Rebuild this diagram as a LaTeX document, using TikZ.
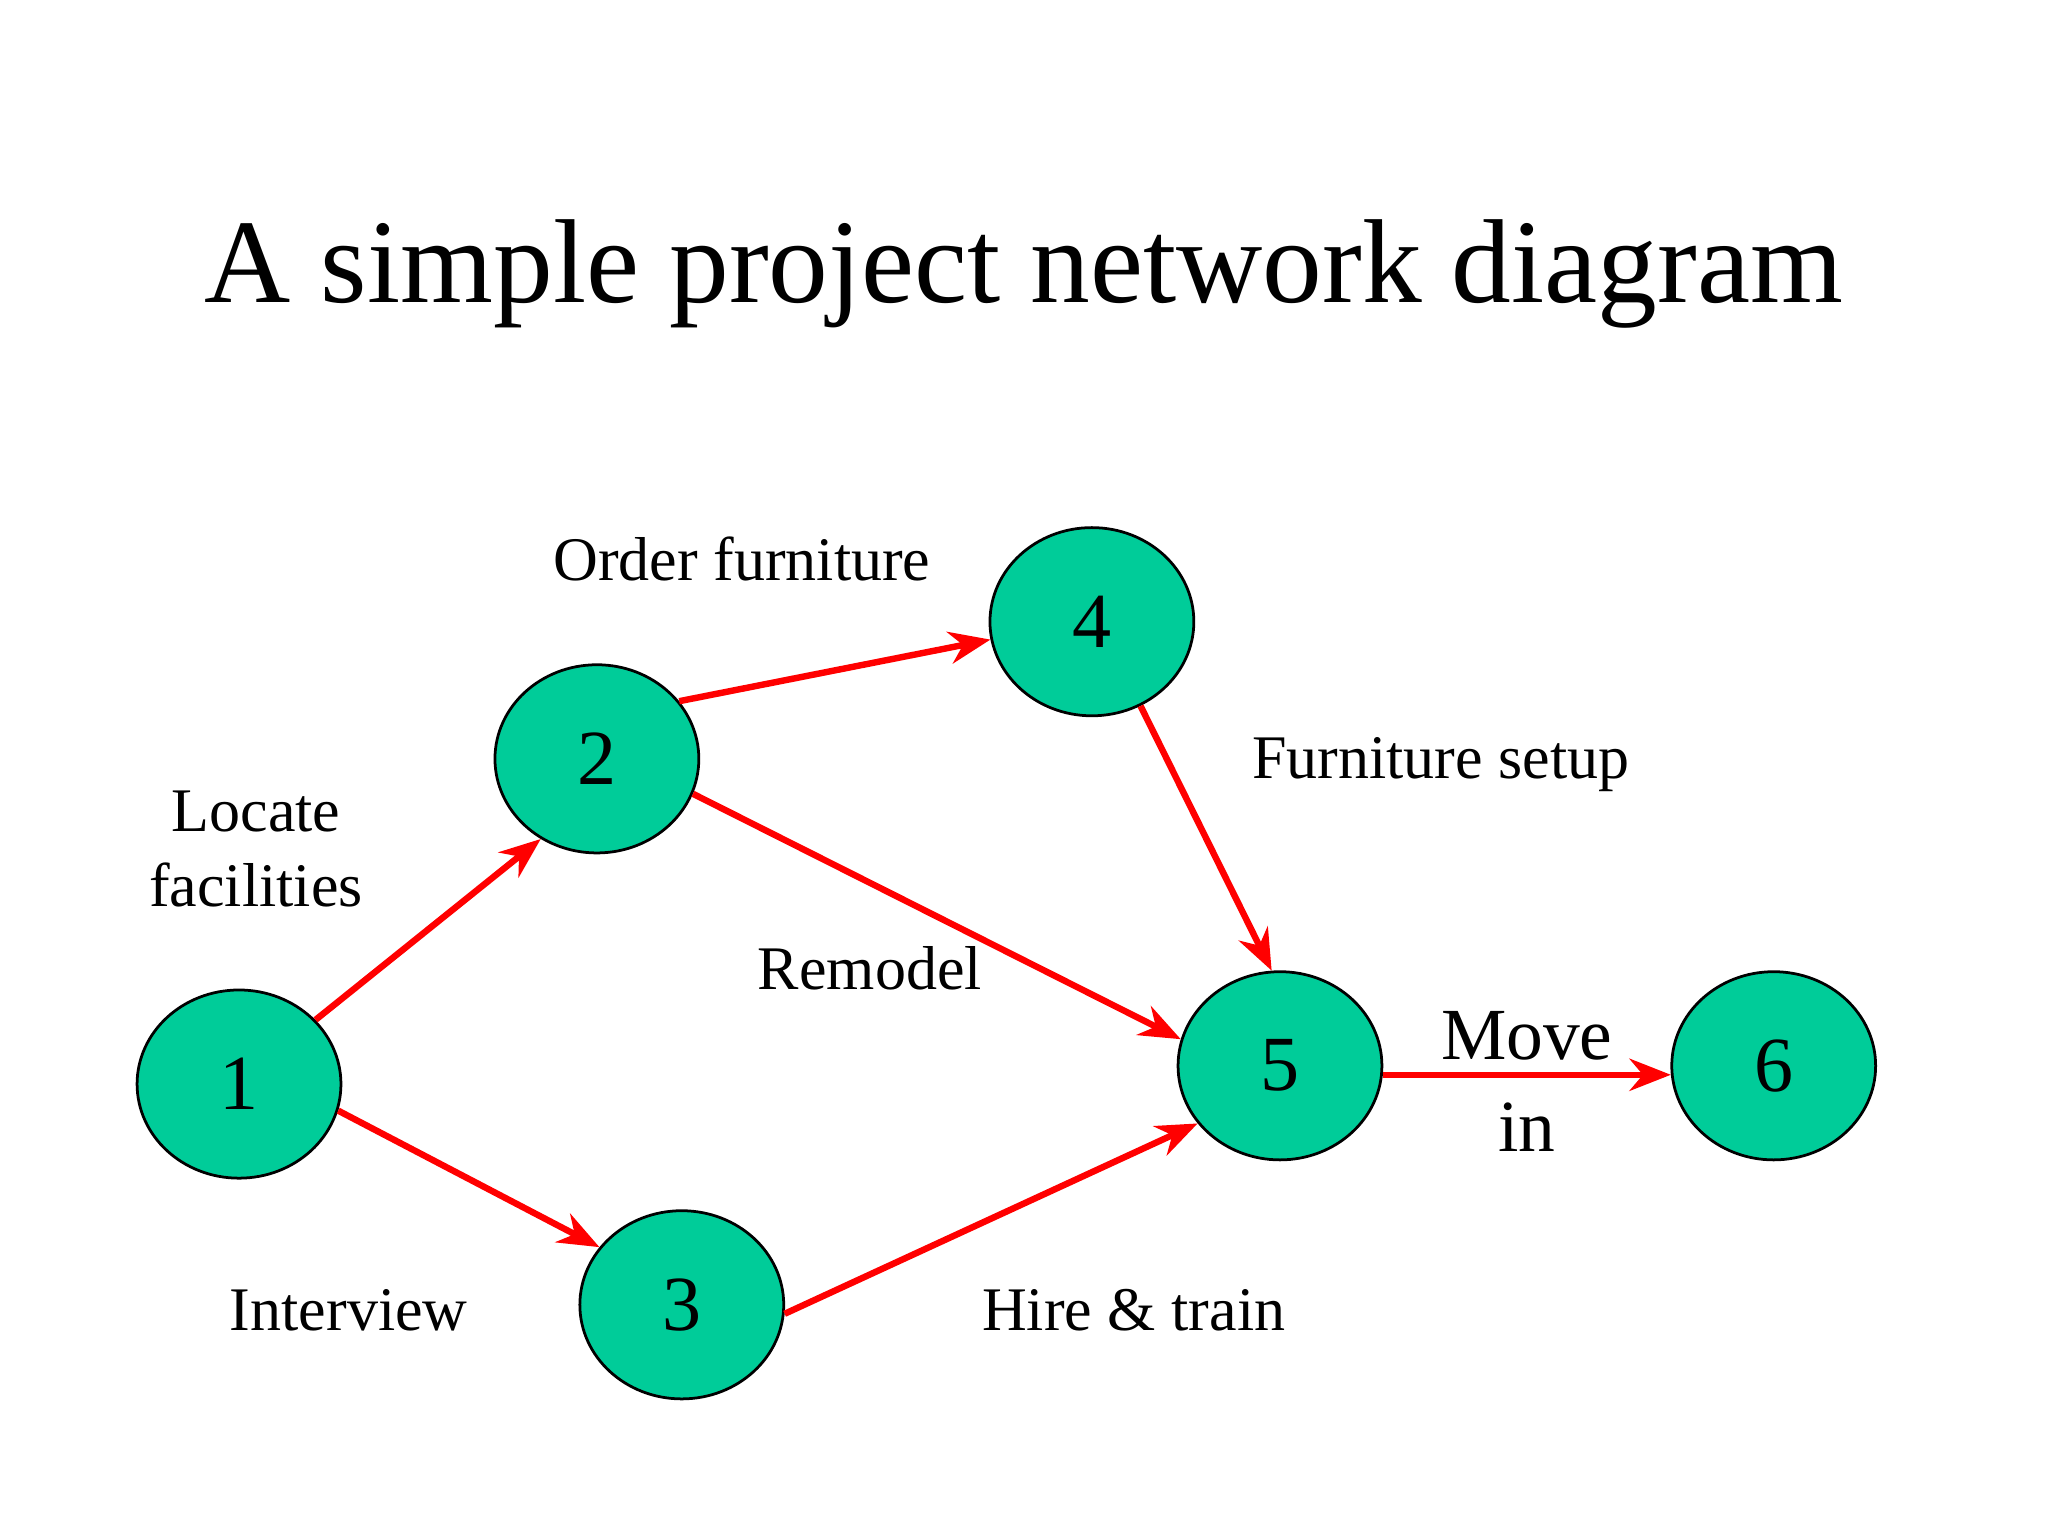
\documentclass[tikz,border=0pt]{standalone}
\usepackage{fontspec}
\setmainfont{Liberation Serif}
\usetikzlibrary{shapes.geometric,arrows.meta}
\definecolor{nodegreen}{HTML}{00CC99}
\begin{document}
\begin{tikzpicture}[x=0.01cm,y=-0.01cm,
  ev/.style={ellipse,draw=black,line width=0.6pt,fill=nodegreen,minimum width=1.56cm,minimum height=1.44cm,inner sep=0pt,font=\fontsize{17}{20}\selectfont},
  act/.style={draw=red,line width=1.4pt,-{Stealth[length=9pt,width=7pt]}},
  lab/.style={font=\fontsize{13.5}{16.5}\selectfont,align=center}]
\useasboundingbox (0,0) rectangle (1568,1176);
\node[font=\fontsize{26}{30}\selectfont] (title) at (784,210) {A simple project network diagram};
\node[ev] (n1) at (183,830) {1};
\node[ev] (n2) at (457,581) {2};
\node[ev] (n4) at (836,476) {4};
\node[ev] (n5) at (980,816) {5};
\node[ev] (n3) at (522,999) {3};
\node[ev] (n6) at (1358,816) {6};
\draw[act] (n1.40) -- (n2.235);
\draw[act] (n1.-15) -- (n3.145);
\draw[act] (n2.35) -- (n4.190);
\draw[act] (n2.-20) -- (n5.165);
\draw[act] (n4.-60) -- (n5.95);
\draw[act] (n3.-5) -- (n5.215);
\draw[act] (n5.-5) -- (n6.-175);
\node[lab] (l1) at (196,650) {Locate\\facilities};
\node[lab] (l2) at (568,428) {Order furniture};
\node[lab] (l3) at (1103,585) {Furniture setup};
\node[lab] (l4) at (666,741) {Remodel};
\node[lab,font=\fontsize{16}{20}\selectfont] (l5) at (1169,828) {Move\\in};
\node[lab] (l6) at (267,1003) {Interview};
\node[lab] (l7) at (868,1003) {Hire \& train};
\end{tikzpicture}
\end{document}
